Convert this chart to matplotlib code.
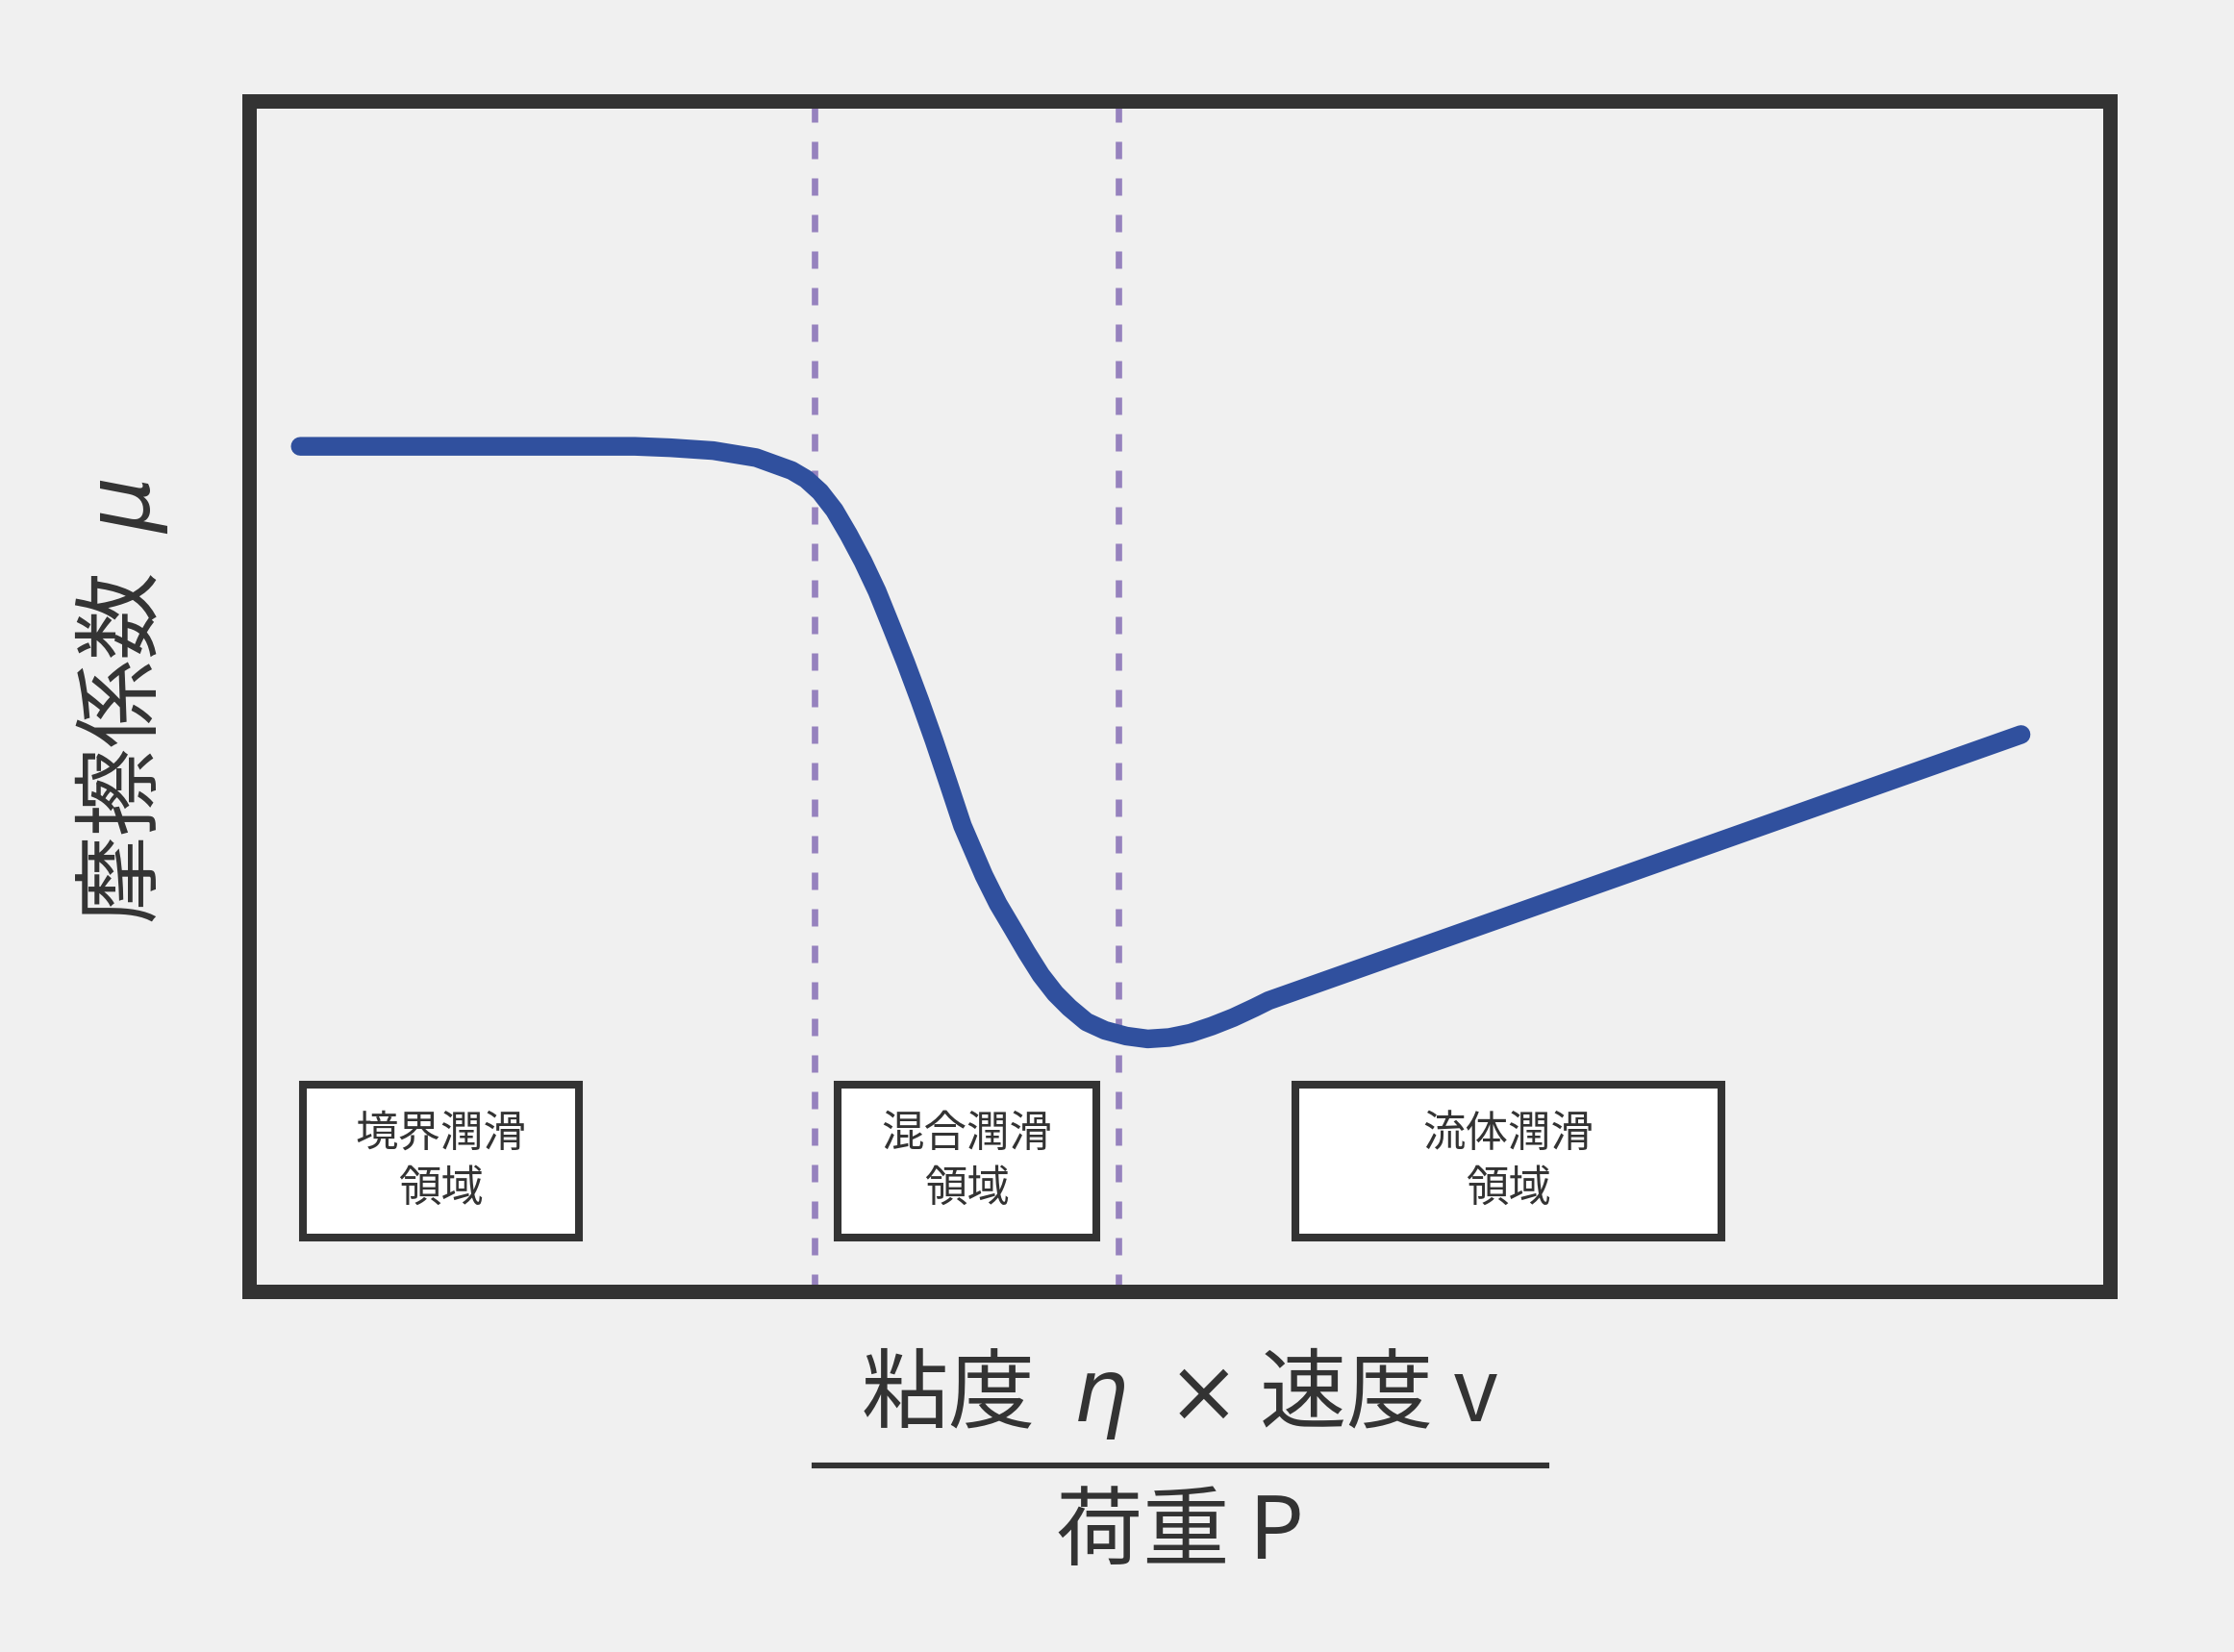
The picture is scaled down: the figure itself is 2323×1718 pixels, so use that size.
import matplotlib
matplotlib.use("Agg")
import matplotlib.pyplot as plt
from matplotlib.patches import Rectangle

plt.rcParams['font.family'] = ['Noto Sans CJK JP', 'DejaVu Sans']

# friction curve (Stribeck-like), frame = 0..100
curve_x = [2.75, 20.73, 22.65, 24.94, 27.24, 29.15, 29.92, 30.68, 31.45,
           32.21, 32.98, 33.74, 34.51, 35.27, 36.04, 36.80, 37.57, 38.33,
           39.48, 40.24, 41.01, 41.77, 42.54, 43.31, 44.07, 44.99, 45.98,
           47.13, 48.28, 49.43, 50.57, 51.72, 52.87, 54.02, 54.78, 95.2]
curve_y = [71.0, 71.0, 70.88, 70.64, 70.05, 68.97, 68.26, 67.18, 65.63,
           63.60, 61.34, 58.83, 55.85, 52.86, 49.64, 46.30, 42.72, 39.14,
           34.96, 32.58, 30.55, 28.52, 26.61, 25.06, 23.87, 22.67, 21.96,
           21.48, 21.24, 21.36, 21.72, 22.32, 23.03, 23.87, 24.46, 46.8]

# region boundaries
bounds = [30.4, 46.7]

# region labels and box extents (x0, x1, y0, y1)
region_labels = ["境界潤滑\n領域", "混合潤滑\n領域", "流体潤滑\n領域"]
region_boxes = [(2.9, 17.7, 4.6, 17.4),
                (31.6, 45.5, 4.6, 17.4),
                (56.2, 79.1, 4.6, 17.4)]

ylabel = "摩擦係数  $\\mu$"
xlabel_top = "粘度  $\\eta$  $\\times$ 速度 v"
xlabel_bottom = "荷重 P"

BG = "#f0f0f0"
DARK = "#333333"
BLUE = "#30509e"
PURPLE = "#9682be"

fig = plt.figure(figsize=(11.615, 8.59), dpi=200, facecolor=BG)
ax = fig.add_axes([0.11149, 0.21799, 0.83319, 0.72089])
ax.set_facecolor(BG)
ax.set_xlim(0, 100)
ax.set_ylim(0, 100)
ax.set_xticks([])
ax.set_yticks([])
for s in ax.spines.values():
    s.set_linewidth(5.4)
    s.set_color(DARK)

for b in bounds:
    ax.axvline(b, color=PURPLE, lw=2.4, dashes=(2.7, 3.0), zorder=1)

ax.plot(curve_x, curve_y, color=BLUE, lw=7, solid_capstyle='round',
        solid_joinstyle='round', zorder=3)

for (x0, x1, y0, y1), lab in zip(region_boxes, region_labels):
    ax.add_patch(Rectangle((x0, y0), x1 - x0, y1 - y0, facecolor='white',
                           edgecolor=DARK, lw=2.9, zorder=4))
    ax.text((x0 + x1) / 2, (y0 + y1) / 2, lab, ha='center', va='center',
            fontsize=16, color=DARK, linespacing=1.32, zorder=5)

# axis labels
ax.text(-6.87, 49.6, ylabel, rotation=90, ha='center', va='center',
        fontsize=33, color=DARK, clip_on=False)
ax.text(50, -8.5, xlabel_top, ha='center', va='center', fontsize=32.5,
        color=DARK, clip_on=False)
ax.plot([30.4, 69.7], [-14.57, -14.57], color=DARK, lw=2.2, clip_on=False)
ax.text(50, -20.4, xlabel_bottom, ha='center', va='center', fontsize=32.5,
        color=DARK, clip_on=False)

fig.savefig("out.png", dpi=200, facecolor=BG)
